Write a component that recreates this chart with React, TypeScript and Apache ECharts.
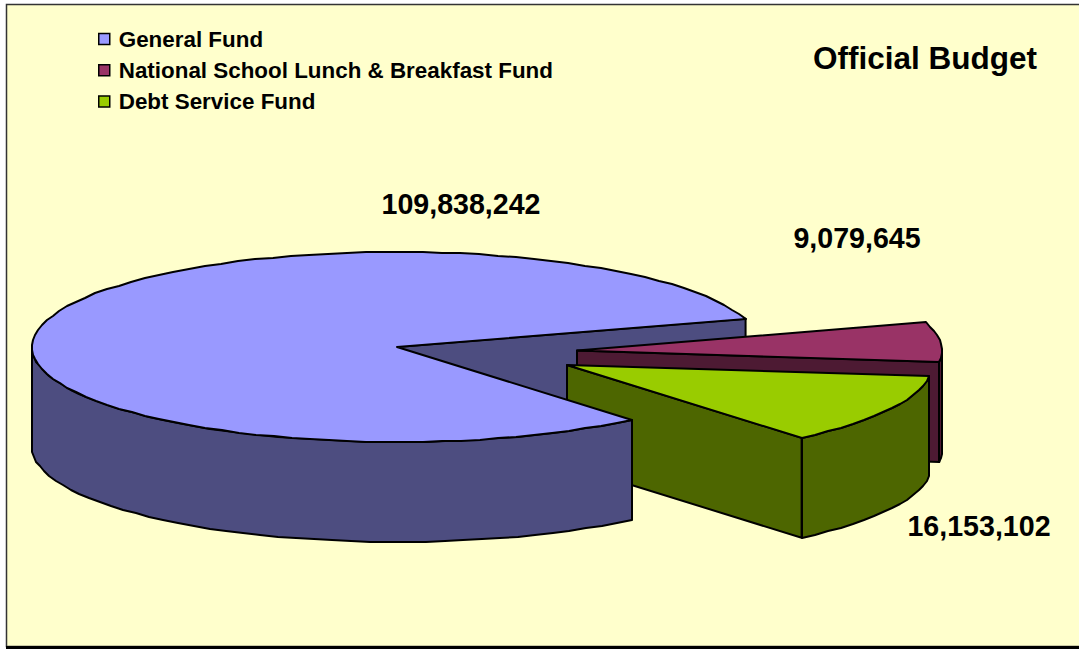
import React, { useEffect, useRef } from "react";
import * as echarts from "echarts";

const categories = ["General Fund", "National School Lunch & Breakfast Fund", "Debt Service Fund"];
const budgetValues = [109838242, 9079645, 16153102];
const topColors = ["#9999FF", "#993366", "#99CC00"];
const sideColors = ["#4D4D80", "#4D1A33", "#4D6600"];
const chartTitle = "Official Budget";

const FONT = '"Liberation Sans", Arial, sans-serif';
const RX = 365;
const RY = 95;
const DEPTH = 100;
const START_DEG = 50;
const CENTERS = [[397, 347], [577, 350.5], [567, 365]];
const LABEL_POS = [[461, 204], [857, 238], [979, 526]];
const total = budgetValues.reduce((a, b) => a + b, 0);
const STEP = 3;

function sliceAngles(i: number) {
  let a = START_DEG;
  for (let k = 0; k < i; k++) a += (budgetValues[k] / total) * 360;
  return [a, a + (budgetValues[i] / total) * 360];
}

function arcPoints(c: number[], a0: number, a1: number, dy = 0) {
  const pts: number[][] = [];
  const n = Math.max(1, Math.ceil(Math.abs(a1 - a0) / STEP));
  for (let k = 0; k <= n; k++) {
    const t = ((a0 + ((a1 - a0) * k) / n) * Math.PI) / 180;
    pts.push([
      Math.round(c[0] + RX * Math.cos(t)),
      Math.round(c[1] + RY * Math.sin(t) + dy),
    ]);
  }
  return pts;
}

// visible part of the outer wall: only angles in [0, 180] (mod 360)
function wallPieces(c: number[], a0: number, a1: number) {
  const out: number[][][] = [];
  for (let base = -720; base <= 720; base += 360) {
    const from = Math.max(a0, base);
    const to = Math.min(a1, base + 180);
    if (to > from) {
      const top = arcPoints(c, from, to);
      const bottom = arcPoints(c, from, to, DEPTH).reverse();
      out.push([...top, ...bottom]);
    }
  }
  return out;
}

function polygon(points: number[][], fill: string, z2: number, lineWidth = 2) {
  return {
    type: "polygon",
    z2,
    shape: { points },
    style: { fill, stroke: "#000", lineWidth, lineJoin: "round" },
  };
}

function pt(c: number[], deg: number, dy = 0) {
  const t = (deg * Math.PI) / 180;
  return [c[0] + RX * Math.cos(t), c[1] + RY * Math.sin(t) + dy];
}

function cutWall(c: number[], deg: number, fill: string, z2: number) {
  const p = pt(c, deg);
  const p2 = pt(c, deg, DEPTH);
  return polygon([c, p, p2, [c[0], c[1] + DEPTH]], fill, z2);
}

function renderSlice(params: any, api: any) {
  const i = params.seriesIndex;
  const c = CENTERS[i];
  const [a0, a1] = sliceAngles(i);
  const side = sideColors[i];
  const top = topColors[i];
  const base = i === 0 ? 30 : i * 10;
  // the wall at the end of each slice faces the viewer; the big slice's one shows
  // through the gap, behind the other slices
  const children: any[] = [cutWall(c, a1, side, i === 0 ? 1 : base)];
  wallPieces(c, a0, a1).forEach((pts) => children.push(polygon(pts, side, base + 1)));
  children.push(polygon([c, ...arcPoints(c, a0, a1)], top, base + 2));
  const value = api.value(0);
  children.push({
    type: "text",
    z2: 50,
    style: {
      text: Number(value).toLocaleString("en-US"),
      x: LABEL_POS[i][0],
      y: LABEL_POS[i][1],
      align: "center",
      verticalAlign: "middle",
      fill: "#000",
      font: `bold 28.6px ${FONT}`,
    },
  });
  return { type: "group", children };
}

export default function App() {
  const ref = useRef<HTMLDivElement>(null);
  useEffect(() => {
    document.body.style.margin = "0";
    document.body.style.background = "#fff";
    const chart = echarts.init(ref.current!, undefined, { renderer: "svg" });
    chart.setOption({
      animation: false,
      backgroundColor: "#fff",
      title: {
        text: chartTitle,
        left: 813,
        top: 42,
        textStyle: { fontFamily: FONT, fontWeight: "bold", fontSize: 31.5, color: "#000" },
        padding: 0,
      },
      legend: {
        orient: "vertical",
        left: 98,
        top: 28,
        padding: 0,
        itemWidth: 11,
        itemHeight: 11,
        itemGap: 9.2,
        selectedMode: false,
        icon: "rect",
        textStyle: { fontFamily: FONT, fontWeight: "bold", fontSize: 22.4, color: "#000", padding: [0, 0, 0, 4] },
        data: categories.map((name, i) => ({
          name,
          icon: "rect",
          itemStyle: { color: topColors[i], borderColor: "#000", borderWidth: 1.5 },
        })),
      },
      graphic: [
        {
          type: "rect",
          z: -10,
          silent: true,
          shape: { x: 6.5, y: 4.5, width: 1085, height: 642 },
          style: { fill: "#FFFFCC", stroke: "#333", lineWidth: 1.5 },
        },
        {
          type: "line",
          z: -9,
          silent: true,
          shape: { x1: 6, y1: 647.5, x2: 1079, y2: 647.5 },
          style: { stroke: "#000", lineWidth: 3 },
        },
      ],
      series: categories.map((name, i) => ({
        type: "custom",
        name,
        coordinateSystem: "none",
        renderItem: renderSlice,
        silent: true,
        clip: false,
        itemStyle: { color: topColors[i] },
        data: [[budgetValues[i]]],
      })),
    });
    return () => chart.dispose();
  }, []);
  return <div ref={ref} style={{ width: 1079, height: 649 }} />;
}
